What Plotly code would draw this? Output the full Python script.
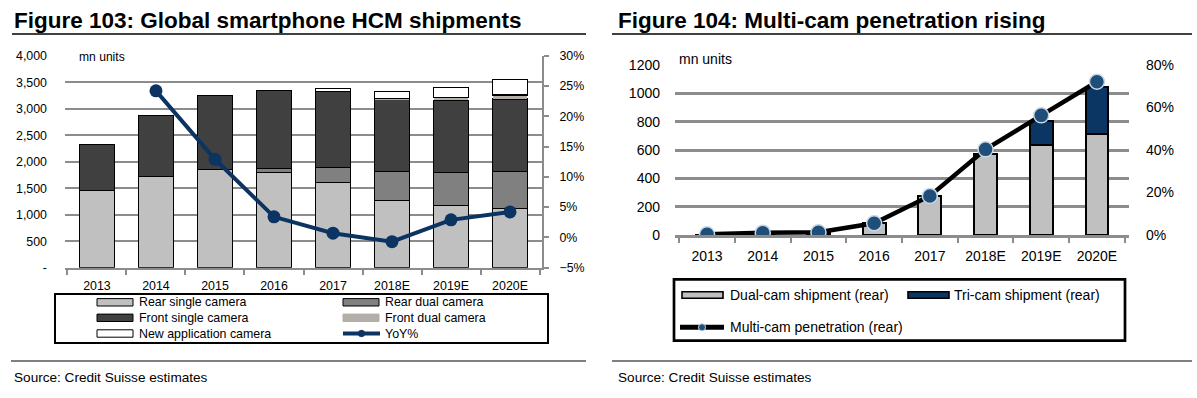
import plotly.graph_objects as go

W, H = 1197, 398
FONT = "Liberation Sans, Arial, sans-serif"

# ---------------- data: Figure 103 ----------------
years = ["2013", "2014", "2015", "2016", "2017", "2018E", "2019E", "2020E"]
rear_single = [1450, 1720, 1850, 1800, 1610, 1270, 1175, 1120]
rear_dual = [0, 0, 0, 75, 285, 550, 625, 700]
front_single = [880, 1155, 1400, 1470, 1435, 1350, 1360, 1363]
front_dual = [0, 0, 0, 0, 0, 30, 50, 75]
new_app = [0, 0, 0, 0, 45, 130, 195, 300]
yoy = [None, 24.2, 12.9, 3.4, 0.7, -0.7, 2.9, 4.2]
left_yticks = [0, 500, 1000, 1500, 2000, 2500, 3000, 3500, 4000]
left_yticktext = ["-", "500", "1,000", "1,500", "2,000", "2,500", "3,000", "3,500", "4,000"]

# ---------------- data: Figure 104 ----------------
dual_cam = [2, 10, 15, 82, 273, 570, 635, 711]
tri_cam = [0, 0, 0, 0, 0, 0, 170, 331]
penetration = [0.3, 1.1, 1.3, 5.5, 18.4, 40.3, 56.3, 72.1]

C_REAR_SINGLE = "#c0c0c0"
C_REAR_DUAL = "#808080"
C_FRONT_SINGLE = "#404040"
C_FRONT_DUAL = "#b3aea8"
C_NEW = "#ffffff"
C_YOY = "#0b3462"
C_DUAL = "#c0c0c0"
C_TRI = "#0b3563"
C_PEN_MK = "#1f4e79"


def px(x):
    return x / W


def py(y):
    return 1 - y / H


fig = go.Figure()

bar_line = dict(color="black", width=1.2)
left_series = [
    ("Rear single camera", rear_single, C_REAR_SINGLE, bar_line),
    ("Rear dual camera", rear_dual, C_REAR_DUAL, bar_line),
    ("Front single camera", front_single, C_FRONT_SINGLE, bar_line),
    ("Front dual camera", front_dual, C_FRONT_DUAL, dict(width=0)),
    ("New application camera", new_app, C_NEW, bar_line),
]
for name, vals, col, ln in left_series:
    fig.add_trace(go.Bar(
        x=years, y=vals, name=name, xaxis="x", yaxis="y",
        marker=dict(color=col, line=ln), width=0.59,
    ))
fig.add_trace(go.Scatter(
    x=years, y=yoy, name="YoY%", xaxis="x", yaxis="y2", mode="lines+markers",
    line=dict(color=C_YOY, width=4), marker=dict(color=C_YOY, size=13),
))

fig.add_trace(go.Bar(
    x=years, y=dual_cam, name="Dual-cam shipment (rear)", xaxis="x2", yaxis="y3",
    marker=dict(color=C_DUAL, line=dict(color="black", width=2)), width=0.41,
))
fig.add_trace(go.Bar(
    x=years, y=tri_cam, name="Tri-cam shipment (rear)", xaxis="x2", yaxis="y3",
    marker=dict(color=C_TRI, line=dict(color="black", width=2)), width=0.41,
))
fig.add_trace(go.Scatter(
    x=years, y=penetration, name="Multi-cam penetration (rear)", xaxis="x2", yaxis="y4",
    mode="lines+markers", line=dict(color="black", width=4.5),
    marker=dict(color=C_PEN_MK, size=15, line=dict(color="#c5d7e8", width=1.5)),
))

grid = "#8c8c8c"
fig.update_layout(
    width=W, height=H, autosize=False,
    margin=dict(l=0, r=0, t=0, b=0, autoexpand=False),
    paper_bgcolor="white", plot_bgcolor="white",
    barmode="stack",
    showlegend=False,
    font=dict(family=FONT, size=13, color="black"),
    xaxis=dict(domain=[px(65), px(542)], anchor="y", showgrid=False, automargin=False,
               showline=True, linecolor=grid, linewidth=2,
               ticks="outside", tickson="boundaries", ticklen=5, tickcolor=grid, tickwidth=2,
               tickfont=dict(size=12.4), ticklabelstandoff=5),
    yaxis=dict(domain=[py(267.7), py(55.7)], anchor="x", range=[0, 4000], automargin=False,
               tickvals=left_yticks, ticktext=left_yticktext,
               showgrid=True, gridcolor=grid, gridwidth=2, zeroline=False,
               tickfont=dict(size=12.4), ticklabelstandoff=17),
    yaxis2=dict(overlaying="y", side="right", anchor="x", range=[-5, 30], dtick=5,
                ticksuffix="%", showgrid=False, zeroline=False, automargin=False,
                showline=True, linecolor=grid, linewidth=2,
                ticks="outside", ticklen=5, tickcolor=grid, tickwidth=2,
                tickfont=dict(size=12.4), ticklabelstandoff=8),
    xaxis2=dict(domain=[px(675), px(1129)], anchor="y3", showgrid=False, automargin=False,
                showline=True, linecolor=grid, linewidth=2.5,
                ticks="outside", tickson="boundaries", ticklen=5, tickcolor=grid, tickwidth=2,
                tickfont=dict(size=14), ticklabelstandoff=6),
    yaxis3=dict(domain=[py(235), py(65)], anchor="x2", range=[0, 1200], dtick=200,
                automargin=False,
                showgrid=True, gridcolor=grid, gridwidth=2.7, zeroline=False,
                tickfont=dict(size=14), ticklabelstandoff=14),
    yaxis4=dict(overlaying="y3", side="right", anchor="x2", range=[0, 80], dtick=20,
                ticksuffix="%", showgrid=False, zeroline=False, automargin=False,
                tickfont=dict(size=14), ticklabelstandoff=16),
)

annotations = []
shapes = []


def text(t, x, y, size, anchor="left"):
    annotations.append(dict(text=t, x=px(x), y=py(y), xref="paper", yref="paper",
                            xanchor=anchor, yanchor="middle", showarrow=False,
                            font=dict(size=size, family=FONT, color="black")))


def rect(x0, x1, y0, y1, fill, lc="black", lw=1.0):
    shapes.append(dict(type="rect", xref="paper", yref="paper",
                       x0=px(x0), x1=px(x1), y0=py(y0), y1=py(y1),
                       fillcolor=fill, line=dict(color=lc, width=lw)))


def hline(x0, x1, y, color, lw):
    shapes.append(dict(type="line", xref="paper", yref="paper",
                       x0=px(x0), x1=px(x1), y0=py(y), y1=py(y),
                       line=dict(color=color, width=lw)))


def dot(cx, cy, r, fill, lc, lw):
    shapes.append(dict(type="circle", xref="paper", yref="paper",
                       x0=px(cx - r), x1=px(cx + r), y0=py(cy + r), y1=py(cy - r),
                       fillcolor=fill, line=dict(color=lc, width=lw)))


# titles
text("<b>Figure 103: Global smartphone HCM shipments</b>", 12, 20, 22.5)
text("<b>Figure 104: Multi-cam penetration rising</b>", 616, 20, 22.5)
hline(12, 586, 34, "black", 1.5)
hline(612, 1192, 34, "black", 1.5)

# axis unit labels
text("mn units", 77, 57, 12.1)
text("mn units", 677, 59, 14)

# left legend
rect(55, 548, 294, 343, "rgba(0,0,0,0)", "black", 2)
leg_left = [
    ("Rear single camera", C_REAR_SINGLE, "black", 97, 302.3),
    ("Rear dual camera", C_REAR_DUAL, "black", 343, 302.3),
    ("Front single camera", C_FRONT_SINGLE, "black", 97, 317.8),
    ("Front dual camera", C_FRONT_DUAL, C_FRONT_DUAL, 343, 317.8),
    ("New application camera", C_NEW, "black", 97, 333.5),
]
for label, col, lc, x0, yc in leg_left:
    rect(x0, x0 + 36, yc - 3.7, yc + 3.7, col, lc, 1)
    text(label, x0 + 40, yc, 12.4)
hline(343, 380, 333.5, C_YOY, 4)
dot(361.5, 333.5, 3.2, C_YOY, C_YOY, 1)
text("YoY%", 383, 333.5, 12.4)

# right legend
rect(674, 1125, 279.3, 340.7, "rgba(0,0,0,0)", "black", 2.7)
rect(682, 723, 291.7, 298.3, C_DUAL, "black", 1.6)
text("Dual-cam shipment (rear)", 727.5, 295, 14)
rect(908, 949, 291.7, 298.3, C_TRI, "black", 1.6)
text("Tri-cam shipment (rear)", 952, 295, 14)
hline(680, 724, 327.3, "black", 5)
dot(702, 327.3, 3.6, C_PEN_MK, "#c5d7e8", 1)
text("Multi-cam penetration (rear)", 727.5, 327.3, 14)

# source lines
hline(11, 586, 361, "black", 1)
hline(612, 1192, 361, "black", 1)
text("Source: Credit Suisse estimates", 12, 377.5, 13.6)
text("Source: Credit Suisse estimates", 616, 377.5, 13.6)

fig.update_layout(annotations=annotations, shapes=shapes)

fig.write_html("out.html", config={"displayModeBar": False},
               post_script="document.body.style.margin='0';")
